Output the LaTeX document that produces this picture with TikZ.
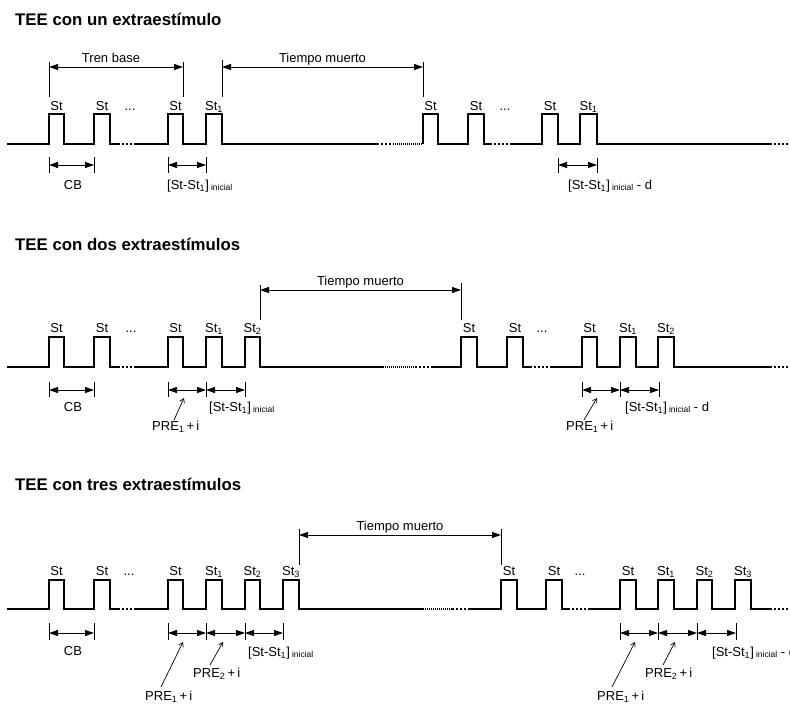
\documentclass[tikz,border=0pt]{standalone}
\usepackage{fontspec}
\setmainfont{Liberation Sans}
\usetikzlibrary{arrows.meta}
\newcommand{\stini}{[St-St\textsubscript{1}]\,\raisebox{-1.5pt}{\fontsize{8.5}{9}\selectfont inicial}}
\newcommand{\prei}[1]{PRE\textsubscript{#1}\,+\,i}
\begin{document}
\begin{tikzpicture}[x=1pt,y=-1pt,
  wave/.style={line width=1.4pt},
  gap/.style={line width=1.3pt, dash pattern=on 1.6pt off 2.4pt},
  fine/.style={line width=1.1pt, dash pattern=on 1pt off 1pt},
  tick/.style={line width=0.7pt},
  dim/.style={line width=0.9pt, {Triangle[length=9pt,width=6pt]}-{Triangle[length=9pt,width=6pt]}},
  ptr/.style={line width=0.7pt, -{Straight Barb[length=4pt,width=5pt]}},
  lbl/.style={font=\fontsize{13}{15}\selectfont, inner sep=0pt, anchor=base},
  lblw/.style={lbl, anchor=base west},
  ttl/.style={font=\fontsize{16.8}{19}\selectfont\bfseries, inner sep=0pt, anchor=base west}]
\useasboundingbox (0,0) rectangle (790,704);
\node[ttl] (t1) at (15,25) {TEE con un extraestímulo};
\node[ttl] (t2) at (15,250) {TEE con dos extraestímulos};
\node[ttl] (t3) at (15,490) {TEE con tres extraestímulos};
\draw[wave] (7,144) -| (49,114) -| (64,144) -| (94,114) -| (110,144) -- (118,144);
\draw[gap] (118,144) -- (135,144);
\draw[wave] (135,144) -| (168,114) -| (183,144) -| (206,114) -| (222,144) -- (377,144);
\draw[gap] (377,144) -- (393,144);
\draw[fine] (393,144) -- (423,144);
\draw[wave] (423,144) |- (438,114) |- (468,144) |- (484,114) |- (490,144);
\draw[gap] (490,144) -- (512,144);
\draw[wave] (512,144) -| (542,114) -| (558,144) -| (580,114) -| (597,144) -- (770,144);
\draw[gap] (770,144) -- (790,144);
\node[lbl] (s1a) at (56.5,110) {St};
\node[lbl] (s1b) at (102,110) {St};
\node[lbl] (d1a) at (130,110) {...};
\node[lbl] (s1c) at (175.5,110) {St};
\node[lbl] (s1d) at (214,110) {St\textsubscript{1}};
\node[lbl] (s1e) at (430.5,110) {St};
\node[lbl] (s1f) at (476,110) {St};
\node[lbl] (d1b) at (505,110) {...};
\node[lbl] (s1g) at (550,110) {St};
\node[lbl] (s1h) at (588.5,110) {St\textsubscript{1}};
\draw[tick] (49,62) -- (49,97);
\draw[tick] (183,62) -- (183,97);
\draw[tick] (222,60) -- (222,97);
\draw[tick] (423,62) -- (423,97);
\coordinate (tb1) at (49,67);
\coordinate (tb2) at (183,67);
\coordinate (tm1) at (222,67);
\coordinate (tm2) at (423,67);
\draw[dim] (tb1) -- (tb2);
\draw[dim] (tm1) -- (tm2);
\node[lbl] (tren) at (111,62) {Tren base};
\node[lbl] (muerto1) at (322.5,62) {Tiempo muerto};
\draw[tick] (49,157) -- (49,173);
\draw[tick] (94,157) -- (94,173);
\draw[tick] (168,157) -- (168,173);
\draw[tick] (206,157) -- (206,173);
\draw[tick] (558,158) -- (558,173);
\draw[tick] (597,158) -- (597,173);
\coordinate (a1) at (49,165);
\coordinate (a2) at (94,165);
\coordinate (a3) at (168,165);
\coordinate (a4) at (206,165);
\coordinate (a5) at (558,165);
\coordinate (a6) at (597,165);
\draw[dim] (a1) -- (a2);
\draw[dim] (a3) -- (a4);
\draw[dim] (a5) -- (a6);
\node[lbl] (cb1) at (73,189) {CB};
\node[lblw] (ini1a) at (167,189) {\stini};
\node[lblw] (ini1b) at (568,189) {\stini\ - d};
\draw[wave] (7,367) -| (49,337) -| (64,367) -| (94,337) -| (110,367) -- (118,367);
\draw[gap] (118,367) -- (135,367);
\draw[wave] (135,367) -| (168,337) -| (183,367) -| (206,337) -| (222,367) -| (245,337) -| (260,367) -- (383,367);
\draw[fine] (383,367) -- (415,367);
\draw[gap] (415,367) -- (432,367);
\draw[wave] (432,367) -| (461,337) -| (477,367) -| (507,337) -| (523,367) -- (530,367);
\draw[gap] (530,367) -- (550,367);
\draw[wave] (550,367) -| (582,337) -| (597,367) -| (620,337) -| (636,367) -| (658,337) -| (674,367) -- (770,367);
\draw[gap] (770,367) -- (790,367);
\node[lbl] (s2a) at (56.5,332) {St};
\node[lbl] (s2b) at (102,332) {St};
\node[lbl] (d2a) at (131,332) {...};
\node[lbl] (s2c) at (175.5,332) {St};
\node[lbl] (s2d) at (214,332) {St\textsubscript{1}};
\node[lbl] (s2e) at (252.5,332) {St\textsubscript{2}};
\node[lbl] (s2f) at (469,332) {St};
\node[lbl] (s2g) at (515,332) {St};
\node[lbl] (d2b) at (542,332) {...};
\node[lbl] (s2h) at (589.5,332) {St};
\node[lbl] (s2i) at (628,332) {St\textsubscript{1}};
\node[lbl] (s2j) at (666,332) {St\textsubscript{2}};
\draw[tick] (260,285) -- (260,320);
\draw[tick] (461,283) -- (461,320);
\coordinate (tm3) at (260,290);
\coordinate (tm4) at (461,290);
\draw[dim] (tm3) -- (tm4);
\node[lbl] (muerto2) at (360.5,285) {Tiempo muerto};
\draw[tick] (49,382) -- (49,397);
\draw[tick] (94,382) -- (94,397);
\draw[tick] (168,382) -- (168,397);
\draw[tick] (206,382) -- (206,397);
\draw[tick] (245,382) -- (245,397);
\draw[tick] (582,382) -- (582,397);
\draw[tick] (620,382) -- (620,397);
\draw[tick] (659,382) -- (659,397);
\coordinate (b1) at (49,390);
\coordinate (b2) at (94,390);
\coordinate (b3) at (168,390);
\coordinate (b4) at (206,390);
\coordinate (b5) at (245,390);
\coordinate (b6) at (582,390);
\coordinate (b7) at (620,390);
\coordinate (b8) at (659,390);
\draw[dim] (b1) -- (b2);
\draw[dim] (b3) -- (b4);
\draw[dim] (b4) -- (b5);
\draw[dim] (b6) -- (b7);
\draw[dim] (b7) -- (b8);
\node[lbl] (cb2) at (73,411) {CB};
\node[lblw] (ini2a) at (209,411) {\stini};
\node[lblw] (ini2b) at (625,411) {\stini\ - d};
\node[lblw] (pre2a) at (152,430) {\prei{1}};
\node[lblw] (pre2b) at (566,430) {\prei{1}};
\coordinate (p2a) at (174,420);
\coordinate (q2a) at (184,398);
\coordinate (p2b) at (584,420);
\coordinate (q2b) at (597,398);
\draw[ptr] (p2a) -- (q2a);
\draw[ptr] (p2b) -- (q2b);
\draw[wave] (7,609) -| (49,580) -| (64,609) -| (94,580) -| (110,609) -- (118,609);
\draw[gap] (118,609) -- (135,609);
\draw[wave] (135,609) -| (168,580) -| (183,609) -| (206,580) -| (222,609) -| (245,580) -| (260,609) -| (283,580) -| (299,609) -- (423,609);
\draw[fine] (423,609) -- (452,609);
\draw[gap] (452,609) -- (468,609);
\draw[wave] (468,609) -| (501,580) -| (517,609) -| (546,580) -| (562,609) -- (568,609);
\draw[gap] (568,609) -- (590,609);
\draw[wave] (590,609) -| (620,580) -| (636,609) -| (658,580) -| (674,609) -| (697,580) -| (712,609) -| (735,580) -| (751,609) -- (770,609);
\draw[gap] (770,609) -- (790,609);
\node[lbl] (s3a) at (56.5,575) {St};
\node[lbl] (s3b) at (102,575) {St};
\node[lbl] (d3a) at (129,575) {...};
\node[lbl] (s3c) at (175.5,575) {St};
\node[lbl] (s3d) at (214,575) {St\textsubscript{1}};
\node[lbl] (s3e) at (252.5,575) {St\textsubscript{2}};
\node[lbl] (s3f) at (291,575) {St\textsubscript{3}};
\node[lbl] (s3g) at (509,575) {St};
\node[lbl] (s3h) at (554,575) {St};
\node[lbl] (d3b) at (580,575) {...};
\node[lbl] (s3i) at (628,575) {St};
\node[lbl] (s3j) at (666,575) {St\textsubscript{1}};
\node[lbl] (s3k) at (704.5,575) {St\textsubscript{2}};
\node[lbl] (s3l) at (743,575) {St\textsubscript{3}};
\draw[tick] (299,529) -- (299,565);
\draw[tick] (501,529) -- (501,565);
\coordinate (tm5) at (299,535);
\coordinate (tm6) at (501,535);
\draw[dim] (tm5) -- (tm6);
\node[lbl] (muerto3) at (400,530) {Tiempo muerto};
\draw[tick] (49,623) -- (49,640);
\draw[tick] (94,623) -- (94,640);
\draw[tick] (168,623) -- (168,640);
\draw[tick] (206,623) -- (206,640);
\draw[tick] (245,623) -- (245,640);
\draw[tick] (283,623) -- (283,640);
\draw[tick] (620,623) -- (620,640);
\draw[tick] (658,623) -- (658,640);
\draw[tick] (697,623) -- (697,640);
\draw[tick] (736,623) -- (736,640);
\coordinate (c1) at (49,633);
\coordinate (c2) at (94,633);
\coordinate (c3) at (168,633);
\coordinate (c4) at (206,633);
\coordinate (c5) at (245,633);
\coordinate (c6) at (283,633);
\coordinate (c7) at (620,633);
\coordinate (c8) at (658,633);
\coordinate (c9) at (697,633);
\coordinate (c10) at (736,633);
\draw[dim] (c1) -- (c2);
\draw[dim] (c3) -- (c4);
\draw[dim] (c4) -- (c5);
\draw[dim] (c5) -- (c6);
\draw[dim] (c7) -- (c8);
\draw[dim] (c8) -- (c9);
\draw[dim] (c9) -- (c10);
\node[lbl] (cb3) at (73,655) {CB};
\node[lblw] (ini3a) at (248,656) {\stini};
\node[lblw] (ini3b) at (712,656) {\stini\ - d};
\node[lblw] (pre3a) at (145,700) {\prei{1}};
\node[lblw] (pre3b) at (193,677) {\prei{2}};
\node[lblw] (pre3c) at (597,700) {\prei{1}};
\node[lblw] (pre3d) at (645,677) {\prei{2}};
\coordinate (p3a) at (161,687);
\coordinate (q3a) at (183,642);
\coordinate (p3b) at (210,665);
\coordinate (q3b) at (223,642);
\coordinate (p3c) at (612,687);
\coordinate (q3c) at (635,642);
\coordinate (p3d) at (663,665);
\coordinate (q3d) at (675,642);
\draw[ptr] (p3a) -- (q3a);
\draw[ptr] (p3b) -- (q3b);
\draw[ptr] (p3c) -- (q3c);
\draw[ptr] (p3d) -- (q3d);
\end{tikzpicture}
\end{document}
